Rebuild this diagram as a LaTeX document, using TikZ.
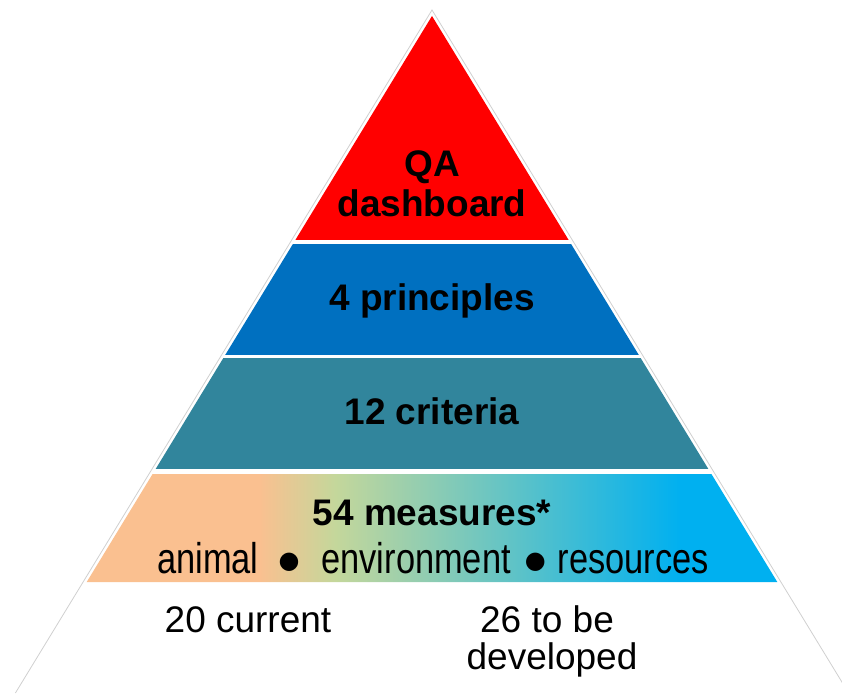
\documentclass[tikz,border=0pt]{standalone}
\usepackage{fontspec}
\setmainfont{Liberation Sans}
\newfontfamily\narrowfont[FakeStretch=0.8]{Liberation Sans}
\newfontfamily\symfont{DejaVu Sans}
\usetikzlibrary{calc}

\definecolor{qared}{HTML}{FF0000}
\definecolor{prblue}{HTML}{0070C0}
\definecolor{crteal}{HTML}{31859C}
\definecolor{mspeach}{HTML}{FAC090}
\definecolor{msgreen}{HTML}{C4D79B}
\definecolor{mscyan}{HTML}{00B0F0}
\definecolor{edgegrey}{HTML}{D0D0D0}
% stops placed in the 25bp--75bp part that TikZ maps onto the path
\pgfdeclarehorizontalshading{msshade}{100bp}{color(0bp)=(mspeach); color(37.5bp)=(mspeach); color(43bp)=(msgreen); color(68bp)=(mscyan); color(100bp)=(mscyan)}

\newcommand{\msdot}{{\symfont\fontsize{24}{24}\selectfont\raisebox{5pt}{●}}}

\begin{document}
\begin{tikzpicture}[x=1pt, y=-1pt,
  band/.style={font=\bfseries\fontsize{37}{40}\selectfont, inner sep=0pt, align=center},
  base/.style={font=\fontsize{37}{37}\selectfont, inner sep=0pt, align=center},
  kind/.style={font=\narrowfont\fontsize{43}{43}\selectfont, inner sep=0pt},
  edge/.style={draw=edgegrey, line width=0.8pt}
]
\useasboundingbox (0,0) rectangle (842,693);

% outer outline
\coordinate (otop) at (432,10);
\coordinate (oleft) at (15.4,693);
\coordinate (oright) at (848.6,693);
\draw[edge] (oleft) -- (otop) -- (oright);

% coloured layers
\coordinate (apex) at (432,16);
\coordinate (bl) at (86.7,582);
\coordinate (br) at (777.3,582);
\begin{scope}
  \clip (apex) -- (bl) -- (br) -- cycle;
  \fill[qared] (0,0) rectangle (842,240);
  \fill[prblue] (0,244) rectangle (842,355);
  \fill[crteal] (0,358) rectangle (842,469);
  \shade[shading=msshade] (86.7,474) rectangle (777.3,582);
\end{scope}

% labels
\node[band] (qa) at (432,183.5) {QA\\dashboard};
\node[band, anchor=base] (princ) at (432,310) {4 principles};
\node[band, anchor=base] (crit) at (432,424) {12 criteria};
\node[band, anchor=base] (meas) at (432,525) {54 measures*};
\node[kind, anchor=base] (kinds) at (433,573) {animal\hspace{20pt}\msdot\hspace{22pt}environment\hspace{14pt}\msdot\hspace{12pt}resources};

\node[base, anchor=base] (cur) at (248,632) {20 current};
\node[base] (dev) at (552,641) {26 to be\hspace*{10pt}\\developed};
\end{tikzpicture}
\end{document}
